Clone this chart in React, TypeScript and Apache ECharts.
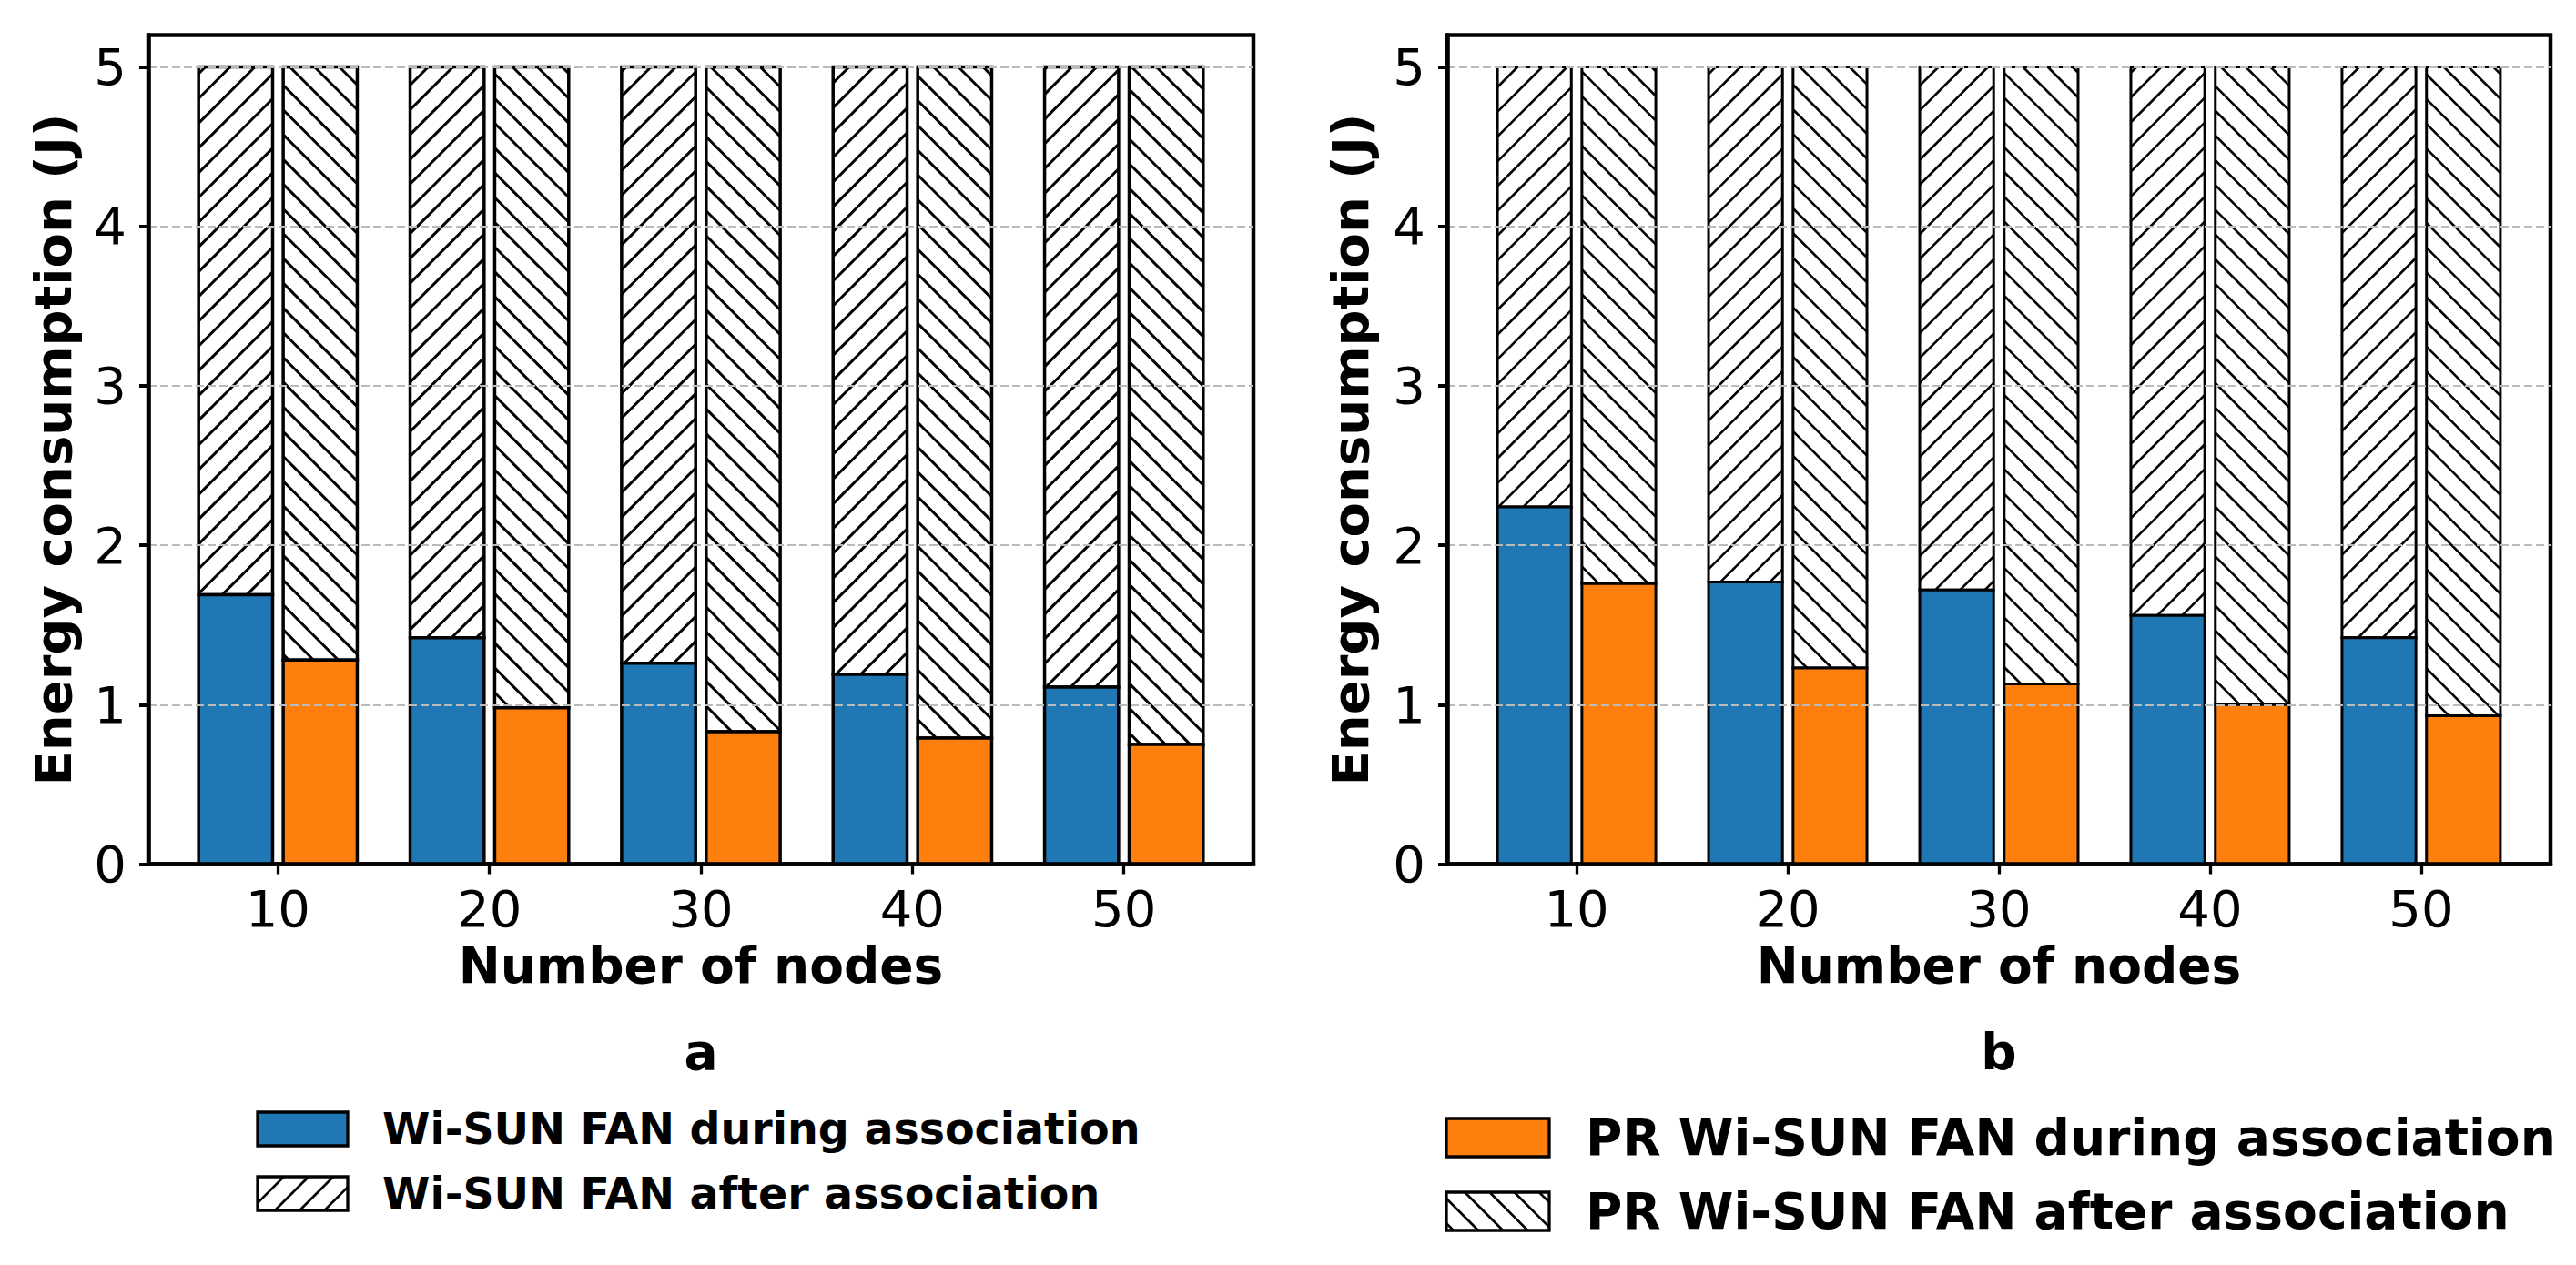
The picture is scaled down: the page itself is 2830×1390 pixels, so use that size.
import { useEffect, useRef } from 'react'
import * as echarts from 'echarts'

// x categories (number of nodes) and stacked energy values (J)
const nodes = [10, 20, 30, 40, 50]
const totalEnergy = [5, 5, 5, 5, 5]
// panel a
const wisunDuringA = [1.69, 1.42, 1.26, 1.19, 1.11]
const prDuringA = [1.28, 0.98, 0.83, 0.79, 0.75]
// panel b
const wisunDuringB = [2.24, 1.77, 1.72, 1.56, 1.42]
const prDuringB = [1.76, 1.23, 1.13, 1.0, 0.93]

const yTicks = [0, 1, 2, 3, 4, 5]
const panelTags = ['a', 'b']
const legendA = ['Wi-SUN FAN during association', 'Wi-SUN FAN after association']
const legendB = ['PR Wi-SUN FAN during association', 'PR Wi-SUN FAN after association']

const FONT = 'DejaVu Sans'
const BLUE = '#1f77b4'
const ORANGE = '#ff7f0e'
const BAR_W = 3.5
const BAR_OFF = 2
const HATCH_STEP = 27.2

// 斜线填充：'/' dir=1, '\' dir=-1，裁剪到矩形内
function hatch(x0: number, y0: number, x1: number, y1: number, dir: number, lw: number) {
  const s = HATCH_STEP
  const out: any[] = []
  const style = { stroke: '#000', lineWidth: lw, fill: 'none' }
  if (dir > 0) {
    for (let c = Math.ceil((x0 + y0) / s) * s; c <= x1 + y1; c += s) {
      const xa = Math.max(x0, c - y1)
      const xb = Math.min(x1, c - y0)
      if (xb > xa) out.push({ type: 'line', silent: true, shape: { x1: xa, y1: c - xa, x2: xb, y2: c - xb }, style })
    }
  } else {
    for (let c = Math.ceil((x0 - y1) / s) * s; c <= x1 - y0; c += s) {
      const xa = Math.max(x0, c + y0)
      const xb = Math.min(x1, c + y1)
      if (xb > xa) out.push({ type: 'line', silent: true, shape: { x1: xa, y1: xa - c, x2: xb, y2: xb - c }, style })
    }
  }
  return out
}

function barRenderer(offset: number, color: string, dir: number, edge: number, hatchW: number) {
  return (_params: any, api: any) => {
    const x = api.value(0) + offset
    const during = api.value(1)
    const total = api.value(2)
    const [xl, yb] = api.coord([x - BAR_W / 2, 0])
    const [xr, ym] = api.coord([x + BAR_W / 2, during])
    const yt = api.coord([x, total])[1]
    const w = xr - xl
    return {
      type: 'group',
      children: [
        { type: 'rect', shape: { x: xl, y: yt, width: w, height: ym - yt }, style: { fill: '#fff', stroke: 'none' } },
        ...hatch(xl, yt, xr, ym, dir, hatchW),
        { type: 'rect', shape: { x: xl, y: yt, width: w, height: ym - yt }, style: { fill: 'none', stroke: '#000', lineWidth: edge } },
        { type: 'rect', shape: { x: xl, y: ym, width: w, height: yb - ym }, style: { fill: color, stroke: '#000', lineWidth: edge } }
      ]
    }
  }
}

function legendItems(labels: string[], x: number, rows: number[], pw: number, ph: number, fill: string, dir: number, fontSize: number, textX: number) {
  const els: any[] = []
  rows.forEach((cy, i) => {
    const y0 = cy - ph / 2
    if (i === 0) {
      els.push({ type: 'rect', shape: { x, y: y0, width: pw, height: ph }, style: { fill, stroke: '#000', lineWidth: 3.3 } })
    } else {
      els.push({ type: 'rect', shape: { x, y: y0, width: pw, height: ph }, style: { fill: '#fff', stroke: 'none' } })
      els.push(...hatch(x, y0, x + pw, y0 + ph, dir, 2.6))
      els.push({ type: 'rect', shape: { x, y: y0, width: pw, height: ph }, style: { fill: 'none', stroke: '#000', lineWidth: 3.3 } })
    }
    els.push({
      type: 'text', x: textX, y: cy,
      style: {
        text: labels[i], fontFamily: FONT, fontSize, fontWeight: 'bold', fill: '#000',
        textAlign: 'left', textVerticalAlign: 'middle', align: 'left', verticalAlign: 'middle'
      }
    })
  })
  return els
}

export default function App() {
  const chartRef = useRef<HTMLDivElement>(null)

  useEffect(() => {
    if (!chartRef.current) return
    const chart = echarts.init(chartRef.current, undefined, { renderer: 'svg' })

    const grids = [
      { left: 163, top: 38.5, width: 1214, height: 911 },
      { left: 1590, top: 38.5, width: 1212, height: 911 }
    ]
    const tickText = { fontFamily: FONT, fontSize: 56, color: '#000' }
    const nameText = { fontFamily: FONT, fontWeight: 'bold' as const, color: '#000' }

    const mk = (gi: number, data: number[], offset: number, color: string, dir: number, edge: number, hw: number) => ({
      type: 'custom',
      xAxisIndex: gi,
      yAxisIndex: gi,
      z: 2,
      clip: false,
      renderItem: barRenderer(offset, color, dir, edge, hw),
      encode: { x: 0, y: [1, 2] },
      data: nodes.map((n, i) => [n, data[i], totalEnergy[i]])
    })

    const option: any = {
      animation: false,
      backgroundColor: '#fff',
      grid: grids.map(g => ({ ...g, show: true, borderColor: '#000', borderWidth: 4.5, backgroundColor: 'transparent' })),
      xAxis: [0, 1].map(i => ({
        type: 'value',
        gridIndex: i,
        min: 3.875,
        max: 56.125,
        z: 4,
        name: 'Number of nodes',
        nameLocation: 'middle',
        nameGap: 84,
        nameTextStyle: { ...nameText, fontSize: 55 },
        axisLine: { show: true, onZero: false, lineStyle: { color: '#000', width: 4.5 } },
        axisTick: { show: true, length: 11, customValues: nodes, lineStyle: { color: '#000', width: 3.3 } },
        axisLabel: { customValues: nodes, margin: 21, ...tickText },
        splitLine: { show: false }
      })),
      yAxis: [0, 1].map(i => ({
        type: 'value',
        gridIndex: i,
        min: 0,
        max: 5.2,
        interval: 1,
        z: 3,
        name: 'Energy consumption (J)',
        nameLocation: 'middle',
        nameRotate: 90,
        nameGap: i === 0 ? 77 : 79,
        nameTextStyle: { ...nameText, fontSize: 56 },
        axisLine: { show: true, lineStyle: { color: '#000', width: 4.5 } },
        axisTick: { show: true, length: 10, customValues: yTicks, lineStyle: { color: '#000', width: 4 } },
        axisLabel: { customValues: yTicks, margin: 24, ...tickText },
        splitLine: { show: true, lineStyle: { color: '#bbbbbb', width: 2, type: [9, 4] } }
      })),
      series: [
        mk(0, wisunDuringA, -BAR_OFF, BLUE, 1, 3.5, 3),
        mk(0, prDuringA, BAR_OFF, ORANGE, -1, 3.5, 3),
        mk(1, wisunDuringB, -BAR_OFF, BLUE, 1, 3, 2.6),
        mk(1, prDuringB, BAR_OFF, ORANGE, -1, 3, 2.6)
      ],
      graphic: {
        elements: [
          ...panelTags.map((t, i) => ({
            type: 'text',
            x: i === 0 ? 770 : 2196,
            y: 1156,
            style: {
              text: t, fontFamily: FONT, fontSize: 55, fontWeight: 'bold', fill: '#000',
              textAlign: 'center', textVerticalAlign: 'middle', align: 'center', verticalAlign: 'middle'
            }
          })),
          ...legendItems(legendA, 283, [1240.5, 1311.5], 99, 37, BLUE, 1, 47.5, 420),
          ...legendItems(legendB, 1589, [1250, 1331], 113, 42, ORANGE, -1, 55, 1742)
        ]
      }
    }

    chart.setOption(option)

    return () => {
      chart.dispose()
    }
  }, [])

  return (
    <div
      ref={chartRef}
      style={{ position: 'absolute', left: 0, top: 0, width: '2830px', height: '1390px' }}
    />
  )
}
